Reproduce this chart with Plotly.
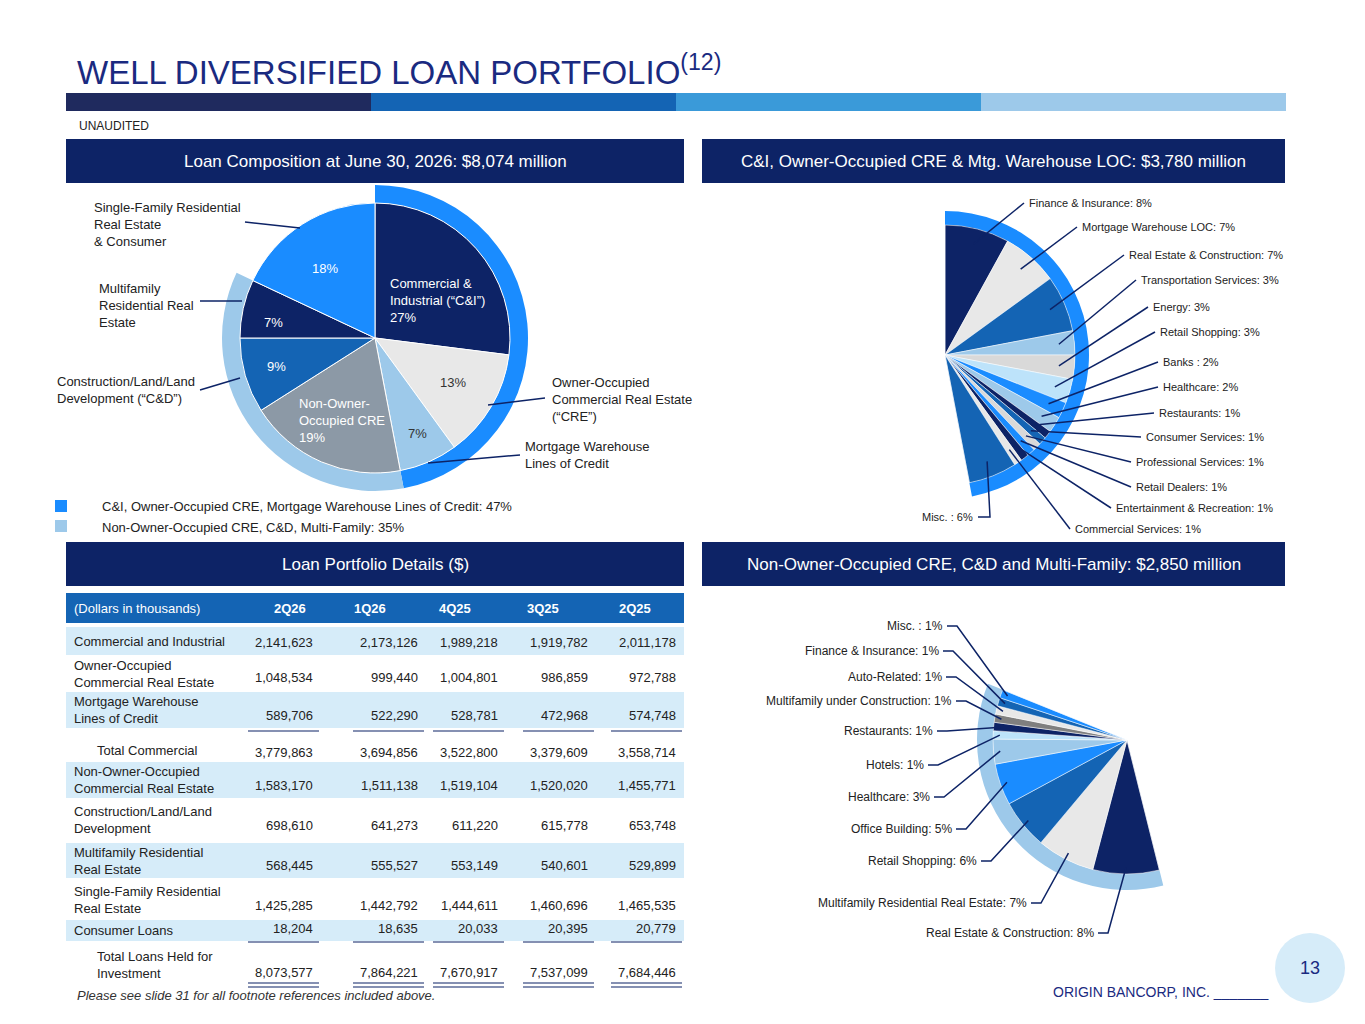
import math
import plotly.graph_objects as go

W, H = 1365, 1024
NAVY = "#0d2366"
MED = "#1464b4"
BRIGHT = "#1a8cff"
LIGHT = "#9dc9ea"
PALE = "#d6ecf9"
FONT = "Arial, Liberation Sans, sans-serif"

# ---- data ----
comp_labels = ["Commercial & Industrial", "Owner-Occupied CRE", "Mortgage Warehouse",
               "Non-Owner-Occupied CRE", "C&D", "Multifamily", "Single-Family & Consumer"]
comp_values = [27, 13, 7, 19, 9, 7, 18]
comp_colors = [NAVY, "#e8e8e8", LIGHT, "#8c99a6", MED, NAVY, BRIGHT]
ring_values = [47, 35, 18]

ci_labels = ["Finance & Insurance: 8%", "Mortgage Warehouse LOC: 7%", "Real Estate & Construction: 7%",
             "Transportation Services: 3%", "Energy: 3%", "Retail Shopping: 3%", "Banks : 2%",
             "Healthcare: 2%", "Restaurants: 1%", "Consumer Services: 1%", "Professional Services: 1%",
             "Retail Dealers: 1%", "Entertainment & Recreation: 1%", "Commercial Services: 1%", "Misc. : 6%"]
ci_values = [8, 7, 7, 3, 3, 3, 2, 2, 1, 1, 1, 1, 1, 1, 6]
ci_colors = [NAVY, "#e8e8e8", MED, LIGHT, "#d9d9d9", "#bde3fa", BRIGHT, LIGHT, NAVY, MED,
             "#d9d9d9", BRIGHT, NAVY, "#e8e8e8", MED]

nc_labels = ["Real Estate & Construction: 8%", "Multifamily Residential Real Estate: 7%",
             "Retail Shopping: 6%", "Office Building: 5%", "Healthcare: 3%", "Hotels: 1%",
             "Restaurants: 1%", "Multifamily under Construction: 1%", "Auto-Related: 1%",
             "Finance & Insurance: 1%", "Misc. : 1%"]
nc_values = [8, 7, 6, 5, 3, 1, 1, 1, 1, 1, 1]
nc_colors = [NAVY, "#e8e8e8", MED, BRIGHT, LIGHT, "#bde3fa", NAVY, "#7f7f7f", "#e8e8e8", MED, BRIGHT]

periods = ["2Q26", "1Q26", "4Q25", "3Q25", "2Q25"]
row_labels = ["Commercial and Industrial", "Owner-Occupied<br>Commercial Real Estate",
              "Mortgage Warehouse<br>Lines of Credit", "Total Commercial",
              "Non-Owner-Occupied<br>Commercial Real Estate", "Construction/Land/Land<br>Development",
              "Multifamily Residential<br>Real Estate", "Single-Family Residential<br>Real Estate",
              "Consumer Loans", "Total Loans Held for<br>Investment"]
row_values = [
    [2141623, 2173126, 1989218, 1919782, 2011178],
    [1048534, 999440, 1004801, 986859, 972788],
    [589706, 522290, 528781, 472968, 574748],
    [3779863, 3694856, 3522800, 3379609, 3558714],
    [1583170, 1511138, 1519104, 1520020, 1455771],
    [698610, 641273, 611220, 615778, 653748],
    [568445, 555527, 553149, 540601, 529899],
    [1425285, 1442792, 1444611, 1460696, 1465535],
    [18204, 18635, 20033, 20395, 20779],
    [8073577, 7864221, 7670917, 7537099, 7684446],
]

# ---- layout helpers (page body adds an 8px margin) ----
OFF = 8
def px(x): return (x - OFF) / W
def py(y): return 1 - (y - OFF) / H

fig = go.Figure()
shapes, ann = [], []

def rect(x0, y0, x1, y1, color, layer="below"):
    shapes.append(dict(type="rect", xref="paper", yref="paper", x0=px(x0), x1=px(x1),
                       y0=py(y1), y1=py(y0), fillcolor=color, line_width=0, layer=layer))

def text(x, y, s, size=13, color="#222", xa="left", ya="middle", align="left", **kw):
    ann.append(dict(x=px(x), y=py(y), xref="paper", yref="paper", text=s, showarrow=False,
                    xanchor=xa, yanchor=ya, align=align,
                    font=dict(size=size, color=color, family=FONT), **kw))

def pie_dom(cx, cy, r):
    return dict(x=[px(cx - r), px(cx + r)], y=[py(cy + r), py(cy - r)])

def fan(values, colors, cx, cy, r, rot, ring_color, ring_r):
    tot = sum(values)
    fig.add_trace(go.Pie(values=[tot, 100 - tot], marker=dict(colors=[ring_color, "rgba(0,0,0,0)"], line_width=0),
                         hole=r / ring_r, sort=False, direction="clockwise", rotation=rot, textinfo="none",
                         hoverinfo="skip", showlegend=False, domain=pie_dom(cx, cy, ring_r)))
    fig.add_trace(go.Pie(values=values + [100 - tot], marker=dict(colors=colors + ["rgba(0,0,0,0)"],
                         line=dict(color="white", width=0.5)), sort=False, direction="clockwise",
                         rotation=rot, textinfo="none", showlegend=False, domain=pie_dom(cx, cy, r)))

def slice_pt(values, i, cx, cy, r, rot):
    a = math.radians(rot + (sum(values[:i]) + values[i] / 2) * 3.6)
    return cx + r * math.sin(a), cy - r * math.cos(a)

def leader(pts):
    d = "M " + " L ".join(f"{px(x)},{py(y)}" for x, y in pts)
    shapes.append(dict(type="path", xref="paper", yref="paper", path=d, line=dict(color=NAVY, width=1.5)))

# ---- title & headers ----
text(75, 70, "WELL DIVERSIFIED LOAN PORTFOLIO<sup>(12)</sup>", size=33, color="#1a2a80")
for x0, c in zip([66, 371, 676, 981], ["#1f2a5e", MED, "#3a9ad9", LIGHT]):
    rect(x0, 93, x0 + 305, 111, c)
text(77, 126, "UNAUDITED", size=12)
for (x0, y0, x1, y1), s in zip([(66, 139, 684, 183), (702, 139, 1285, 183), (66, 542, 684, 586), (702, 542, 1285, 586)],
                               ["Loan Composition at June 30, 2026: $8,074 million",
                                "C&I, Owner-Occupied CRE & Mtg. Warehouse LOC: $3,780 million",
                                "Loan Portfolio Details ($)",
                                "Non-Owner-Occupied CRE, C&D and Multi-Family: $2,850 million"]):
    rect(x0, y0, x1, y1, NAVY)
    text((x0 + x1) / 2, (y0 + y1) / 2, s, size=17, color="white", xa="center")

# ---- loan composition pie ----
cx, cy, r, rr = 375, 338, 135, 153
fig.add_trace(go.Pie(values=ring_values, marker=dict(colors=[BRIGHT, LIGHT, "rgba(0,0,0,0)"], line_width=0),
                     hole=r / rr, sort=False, direction="clockwise", rotation=0, textinfo="none",
                     hoverinfo="skip", showlegend=False, domain=pie_dom(cx, cy, rr)))
fig.add_trace(go.Pie(values=comp_values, labels=comp_labels, marker=dict(colors=comp_colors, line=dict(color="white", width=1)),
                     sort=False, direction="clockwise", rotation=0, textinfo="none", showlegend=False,
                     domain=pie_dom(cx, cy, r)))
text(388, 300, "Commercial &<br>Industrial (“C&I”)<br>27%", color="white")
text(453, 382, "13%", color="#333", xa="center")
text(417, 433, "7%", color="#333", xa="center")
text(297, 420, "Non-Owner-<br>Occupied CRE<br>19%", color="white")
text(276, 366, "9%", color="white", xa="center")
text(273, 322, "7%", color="white", xa="center")
text(325, 268, "18%", color="white", xa="center")
text(92, 224, "Single-Family Residential<br>Real Estate<br>& Consumer")
leader([(245, 222), (300, 228)])
text(97, 305, "Multifamily<br>Residential Real<br>Estate")
leader([(200, 301), (242, 301)])
text(55, 390, "Construction/Land/Land<br>Development (“C&D”)")
leader([(200, 390), (240, 378)])
text(550, 399, "Owner-Occupied<br>Commercial Real Estate<br>(“CRE”)")
leader([(545, 398), (488, 405)])
text(523, 455, "Mortgage Warehouse<br>Lines of Credit")
leader([(520, 455), (428, 463)])
rect(55, 500, 67, 512, BRIGHT)
rect(55, 520, 67, 532, LIGHT)
text(100, 506, "C&I, Owner-Occupied CRE, Mortgage Warehouse Lines of Credit: 47%")
text(100, 527, "Non-Owner-Occupied CRE, C&D, Multi-Family: 35%")

# ---- C&I fan ----
fcx, fcy, fr, frot = 945, 355, 130, 0
fan(ci_values, ci_colors, fcx, fcy, fr, frot, BRIGHT, 144)
ci_pos = [(1027, 203), (1080, 227), (1127, 255), (1139, 280), (1151, 307), (1158, 332), (1161, 362),
          (1161, 387), (1157, 413), (1144, 437), (1134, 462), (1134, 487), (1114, 508), (1073, 529)]
for i, (tx, ty) in enumerate(ci_pos):
    text(tx, ty, ci_labels[i], size=11)
    leader([(tx - 3, ty), slice_pt(ci_values, i, fcx, fcy, fr * 0.88, frot)])
text(975, 517, ci_labels[-1], size=11, xa="right")
leader([(978, 517), (990, 517), slice_pt(ci_values, 14, fcx, fcy, fr * 0.88, frot)])

# ---- NOO CRE fan ----
ncx, ncy, nr, nrot = 1127, 740, 134, 166
fan(nc_values, nc_colors, ncx, ncy, nr, nrot, LIGHT, 150)
nc_pos = [(1096, 933), (1029, 903), (979, 861), (954, 829), (932, 797), (926, 765), (935, 731),
          (954, 701), (944, 677), (941, 651), (945, 626)]
for i, (tx, ty) in enumerate(nc_pos):
    text(tx, ty, nc_labels[i], size=12, xa="right")
    leader([(tx + 2, ty), (tx + 12, ty), slice_pt(nc_values, i, ncx, ncy, nr * 0.95, nrot)])

# ---- table ----
col_r = [315, 420, 500, 590, 678]
col_c = [290, 370, 455, 543, 635]
rect(66, 593, 684, 623, MED)
text(72, 608, "(Dollars in thousands)", color="white")
for c, p in zip(col_c, periods):
    text(c, 608, "<b>" + p + "</b>", color="white", xa="center")
rows = [(627, 655), (657, 690), (692, 728), (735, 765), (762, 798), (802, 838),
        (843, 878), (882, 918), (920, 941), (945, 985)]
shaded = {0, 2, 4, 6, 8}
for k, ((y0, y1), lab, vals) in enumerate(zip(rows, row_labels, row_values)):
    if k in shaded:
        rect(66, y0, 684, y1, PALE)
    lx = 95 if lab.startswith("Total") else 72
    text(lx, (y0 + y1) / 2, lab, size=13)
    for xr, v in zip(col_r, vals):
        text(xr, y1 - 13, f"{v:,}", size=13, xa="right")
for yy in [731, 942, 983, 987]:
    for xr in col_r:
        shapes.append(dict(type="line", xref="paper", yref="paper", x0=px(xr - 67 if xr != 315 else 248),
                           x1=px(xr + 4), y0=py(yy), y1=py(yy), line=dict(color=NAVY, width=1.2)))

text(75, 995, "<i>Please see slide 31 for all footnote references included above.</i>", size=13, color="#333")
text(1270, 992, "ORIGIN BANCORP, INC. _______", size=14, color="#1a2a80", xa="right")
shapes.append(dict(type="circle", xref="paper", yref="paper", x0=px(1275), x1=px(1345), y0=py(1003), y1=py(933),
                   fillcolor=PALE, line_width=0))
text(1310, 968, "13", size=18, color="#1a2a80", xa="center")

fig.update_layout(width=W, height=H, margin=dict(l=0, r=0, t=0, b=0), paper_bgcolor="white",
                  plot_bgcolor="white", shapes=shapes, annotations=ann, showlegend=False)
fig.write_html("out.html")
